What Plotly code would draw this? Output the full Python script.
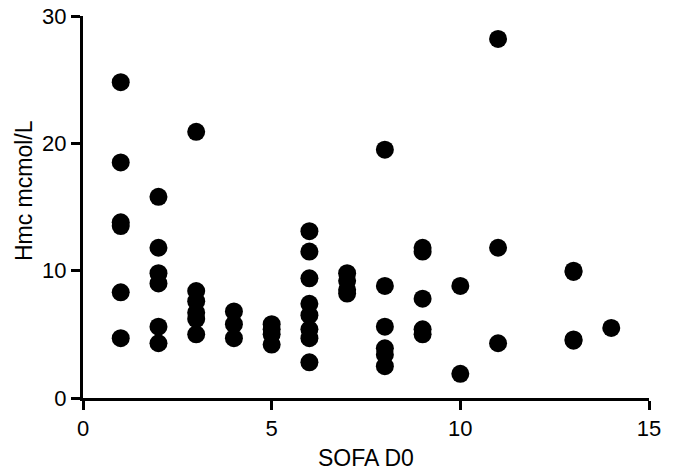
import plotly.graph_objects as go

# SOFA D0 score (x) and Hmc mcmol/L (y)
sofa = [1, 1, 1, 1, 1, 1,
        2, 2, 2, 2, 2, 2,
        3, 3, 3, 3, 3, 3,
        4, 4, 4,
        5, 5, 5, 5,
        6, 6, 6, 6, 6, 6, 6, 6,
        7, 7, 7, 7,
        8, 8, 8, 8, 8, 8,
        9, 9, 9, 9, 9,
        10, 10,
        11, 11, 11,
        13, 13, 13, 13,
        14]
hmc = [24.8, 18.5, 13.8, 13.5, 8.3, 4.7,
       15.8, 11.8, 9.8, 9.0, 5.6, 4.3,
       20.9, 8.4, 7.6, 6.7, 6.2, 5.0,
       6.8, 5.8, 4.7,
       5.8, 5.4, 5.0, 4.2,
       13.1, 11.5, 9.4, 7.4, 6.5, 5.4, 4.7, 2.8,
       9.8, 9.2, 8.5, 8.2,
       19.5, 8.8, 5.6, 3.9, 3.4, 2.5,
       11.8, 11.5, 7.8, 5.4, 5.0,
       8.8, 1.9,
       28.2, 11.8, 4.3,
       10.0, 9.9, 4.6, 4.5,
       5.5]

x_ticks = [0, 5, 10, 15]
y_ticks = [0, 10, 20, 30]

FONT = "Liberation Sans, Arial, sans-serif"

fig = go.Figure(go.Scatter(
    x=sofa, y=hmc, mode="markers",
    marker=dict(color="black", size=18, line=dict(width=0)),
    showlegend=False, cliponaxis=False, hoverinfo="skip",
))

axis_common = dict(
    showgrid=False, zeroline=False, showline=True, linecolor="black", linewidth=3,
    ticks="outside", ticklen=9, tickwidth=2.5, tickcolor="black",
    tickfont=dict(family=FONT, size=22, color="black"),
    automargin=False,
)

fig.update_layout(
    width=678, height=471,
    margin=dict(l=83, r=29, t=16, b=73),
    paper_bgcolor="white", plot_bgcolor="white",
    xaxis=dict(range=[0, 15], tickvals=x_ticks, **axis_common),
    yaxis=dict(range=[0, 30], tickvals=y_ticks, **axis_common),
    annotations=[
        dict(text="SOFA D0", xref="paper", yref="paper", x=0.5, y=-0.157,
             xanchor="center", yanchor="middle", showarrow=False,
             font=dict(family=FONT, size=23, color="black")),
        dict(text="Hmc mcmol/L", xref="paper", yref="paper", x=-0.104, y=0.542,
             xanchor="center", yanchor="middle", textangle=-90, showarrow=False,
             font=dict(family=FONT, size=23, color="black")),
    ],
)

# remove the default 8px page margin so the figure fills the window exactly
fig.write_html("out.html", config={"displayModeBar": False},
               post_script="document.body.style.margin='0';")
